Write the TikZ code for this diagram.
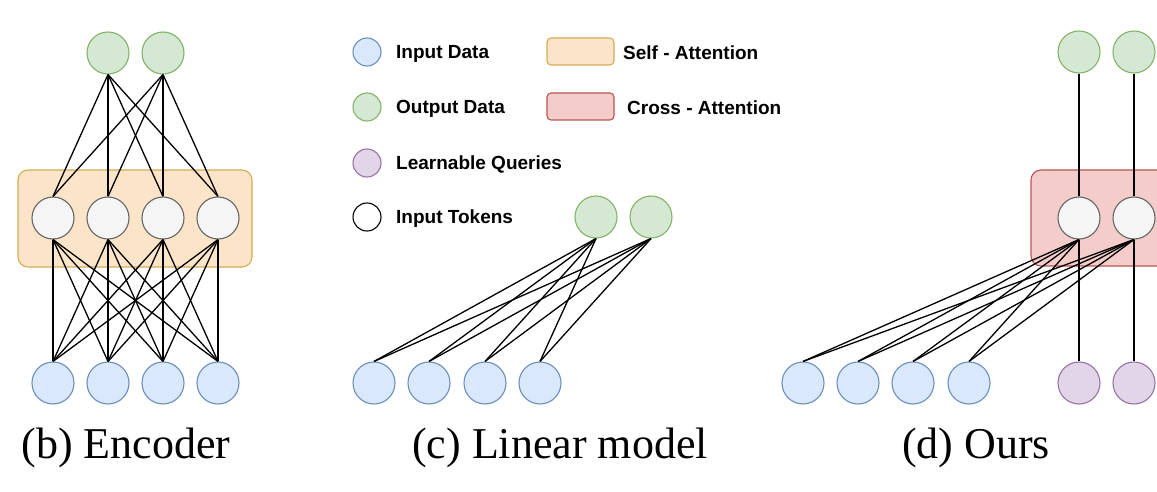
\documentclass[tikz,border=0pt]{standalone}
\usepackage{fontspec}
\setmainfont{Liberation Serif}
\newfontfamily\legfont{Liberation Sans}
\definecolor{inF}{HTML}{DAE8FC}\definecolor{inD}{HTML}{6C8EBF}
\definecolor{outF}{HTML}{D5E8D4}\definecolor{outD}{HTML}{82B366}
\definecolor{qF}{HTML}{E1D5E7}\definecolor{qD}{HTML}{9673A6}
\definecolor{tkF}{HTML}{F5F5F5}\definecolor{tkD}{HTML}{666666}
\definecolor{saF}{HTML}{FBE4C8}\definecolor{saD}{HTML}{D6AC55}
\definecolor{caF}{HTML}{F4CDCA}\definecolor{caD}{HTML}{B85450}
\begin{document}
\begin{tikzpicture}[x=1pt,y=-1pt,
  nd/.style={circle,inner sep=0pt,minimum size=42pt,line width=1.1pt},
  lg/.style={circle,inner sep=0pt,minimum size=28pt,line width=1.1pt},
  indata/.style={fill=inF,draw=inD},
  outdata/.style={fill=outF,draw=outD},
  query/.style={fill=qF,draw=qD},
  token/.style={fill=tkF,draw=tkD},
  link/.style={line width=1.3pt,black},
  sabox/.style={fill=saF,draw=saD,line width=1.1pt,rounded corners=10pt},
  cabox/.style={fill=caF,draw=caD,line width=1.1pt,rounded corners=10pt},
  legtext/.style={anchor=west,inner sep=0pt,yshift=-1.5pt,font=\legfont\bfseries\fontsize{19}{22}\selectfont},
  caption/.style={anchor=base,inner sep=0pt,font=\fontsize{44}{50}\selectfont}]
\useasboundingbox (0,0) rectangle (1157,492);
% ---------- (b) Encoder ----------
\node[sabox,minimum width=234pt,minimum height=97pt,inner sep=0pt] (sa) at (135,218.5) {};
\foreach \i/\x in {1/53,2/108,3/163,4/218}{
  \node[nd,token] (bt\i) at (\x,218) {};
  \node[nd,indata] (bi\i) at (\x,383) {};
}
\node[nd,outdata] (bo1) at (108,53) {};
\node[nd,outdata] (bo2) at (163,53) {};
\foreach \o in {1,2}{\foreach \t in {1,2,3,4}{\draw[link] (bo\o.south) -- (bt\t.north);}}
\foreach \t in {1,2,3,4}{\foreach \i in {1,2,3,4}{\draw[link] (bt\t.south) -- (bi\i.north);}}
\node[caption] (capb) at (126,458) {(b) Encoder};
% ---------- Legend ----------
\node[lg,indata] (l1) at (367,52) {};
\node[legtext] (l1t) at (396,52) {Input Data};
\node[lg,outdata] (l2) at (367,107) {};
\node[legtext] (l2t) at (396,107) {Output Data};
\node[lg,query] (l3) at (367,163) {};
\node[legtext] (l3t) at (396,163) {Learnable Queries};
\node[lg,fill=white,draw=black] (l4) at (367,217) {};
\node[legtext] (l4t) at (396,217) {Input Tokens};
\node[sabox,rounded corners=4pt,minimum width=67pt,minimum height=27pt,inner sep=0pt] (l5) at (580.5,51.5) {};
\node[legtext] (l5t) at (623,51.5) {Self - Attention};
\node[cabox,rounded corners=4pt,minimum width=67pt,minimum height=27pt,inner sep=0pt] (l6) at (580.5,106.5) {};
\node[legtext] (l6t) at (627,106.5) {Cross - Attention};
% ---------- (c) Linear model ----------
\foreach \i/\x in {1/374,2/429,3/485,4/540}{\node[nd,indata] (ci\i) at (\x,383) {};}
\node[nd,outdata] (co1) at (596,217) {};
\node[nd,outdata] (co2) at (651,217) {};
\foreach \o in {1,2}{\foreach \i in {1,2,3,4}{\draw[link] (co\o.south) -- (ci\i.north);}}
\node[caption] (capc) at (560,458) {(c) Linear model};
% ---------- (d) Ours ----------
\node[cabox,minimum width=160pt,minimum height=96pt,inner sep=0pt] (ca) at (1111,218) {};
\foreach \i/\x in {1/803,2/858,3/913,4/969}{\node[nd,indata] (di\i) at (\x,383) {};}
\foreach \k/\x in {1/1079,2/1134}{
  \node[nd,outdata] (do\k) at (\x,52) {};
  \node[nd,token] (dt\k) at (\x,218) {};
  \node[nd,query] (dq\k) at (\x,383) {};
}
\foreach \k in {1,2}{
  \draw[link] (do\k.south) -- (dt\k.north);
  \draw[link] (dt\k.south) -- (dq\k.north);
  \foreach \i in {1,2,3,4}{\draw[link] (dt\k.south) -- (di\i.north);}
}
\node[caption] (capd) at (976,458) {(d) Ours};
\end{tikzpicture}
\end{document}
